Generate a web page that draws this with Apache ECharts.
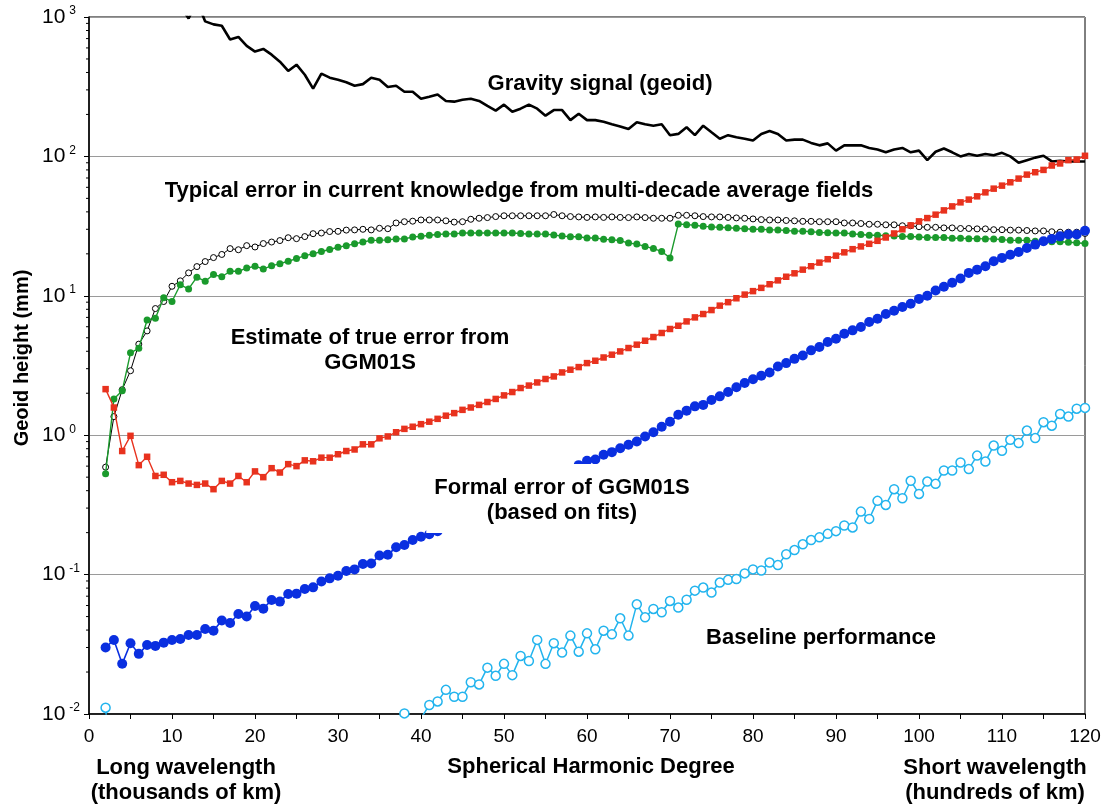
<!DOCTYPE html>
<html lang="en">
<head>
<meta charset="UTF-8">
<title>Geoid height vs spherical harmonic degree</title>
<script src="https://cdn.jsdelivr.net/npm/echarts@6/dist/echarts.min.js"></script>
<style>
    html, body { margin: 0; padding: 0; background: #fff; }
    #main { width: 1105px; height: 805px; }
</style>
</head>
<body>
<div id="main"></div>
<script>
    // degree of the first value in each series
    var firstDegree = 2;
    var gravityFirstDegree = 11;

    // gravity signal (geoid), degree 11..120, mm
    var gravity = [1200, 975, 1300, 930, 885, 865, 690, 720, 620, 565,
        590, 537, 478, 410, 455, 385, 306, 392, 367, 355,
        340, 321, 330, 367, 355, 315, 321, 291, 291, 259,
        268, 278, 250, 247, 255, 259, 250, 230, 213, 235,
        209, 220, 235, 220, 196, 215, 215, 182, 202, 182,
        182, 177, 170, 164, 157, 176, 170, 166, 170, 142,
        145, 162, 142, 166, 149, 134, 142, 137, 134, 130,
        145, 152, 145, 130, 132, 132, 125, 120, 124, 110,
        120, 120, 120, 115, 112, 107, 112, 115, 107, 110,
        94, 108, 114, 107, 100, 104, 101, 104, 102, 106,
        100, 90, 94, 98, 101, 92, 93, 92, 92, 92];

    // typical error in current knowledge (open black circles), degree 2..120
    var currentKnowledge = [0.59, 1.36, 2.12, 2.9, 4.5, 5.6, 8.1, 9.1, 11.7,
        12.8, 14.6, 16.2, 17.6, 18.8, 19.8, 21.8, 21.4, 22.9, 22.4,
        23.7, 24.3, 24.9, 26.1, 25.7, 26.6, 27.9, 28.2, 28.9, 29,
        29.6, 29.7, 30, 29.7, 30.5, 30.3, 33.3, 34, 34.3, 35,
        35, 35, 34.5, 33.8, 34, 35.4, 36, 36.4, 37, 37.5,
        37.5, 37.5, 37.5, 37.5, 37.5, 38.3, 37.5, 37, 36.8, 36.5,
        36.8, 36.5, 36.8, 36.5, 36.4, 36.8, 36.4, 36, 36, 36,
        37.8, 37.8, 37.5, 37, 36.8, 36.8, 36.5, 36.2, 36, 35.6,
        35.2, 35, 35, 34.7, 34.5, 34.2, 34.2, 34, 34, 34,
        33.3, 33.3, 33, 32.6, 32.6, 32.3, 32.3, 31.8, 31.8, 31.3,
        31, 31, 30.7, 30.7, 30.4, 30.4, 30.2, 30.2, 29.8, 29.8,
        29.6, 29.6, 29.4, 29.2, 29.2, 28.8, 28.6, 28.6, 28.6, 28];

    // multi-decade average fields (green), degree 2..120
    var multiDecade = [0.53, 1.82, 2.08, 3.9, 4.2, 6.7, 6.9, 9.7, 9.1,
        12, 11.2, 13.6, 12.7, 14.2, 13.7, 15, 15, 15.8, 16.3,
        15.6, 16.4, 17, 17.7, 18.5, 19.4, 20, 20.8, 21.5, 22.3,
        22.9, 23.6, 24.3, 25, 25, 25.2, 25.6, 25.6, 26.4, 26.7,
        27.2, 27.5, 27.8, 27.8, 28.2, 28.2, 28.2, 28.2, 28.2, 28.2,
        28.2, 28, 27.7, 27.7, 27.7, 27.3, 26.8, 26.5, 26.5, 26,
        26, 25.5, 25.2, 24.9, 23.9, 23.5, 22.6, 21.8, 20.8, 18.7,
        32.7, 32.4, 32.1, 31.5, 31.2, 31, 30.8, 30.5, 30.3, 30,
        30, 29.7, 29.7, 29.4, 29.1, 29.1, 28.8, 28.5, 28.3, 28.2,
        28.2, 27.8, 27.5, 27.2, 27.2, 27, 26.8, 26.6, 26.6, 26.4,
        26.2, 26.2, 26.2, 25.9, 25.9, 25.7, 25.7, 25.6, 25.6, 25.3,
        25, 25, 25, 24.6, 24.6, 24.4, 24.4, 24.2, 24, 23.7];

    // estimate of true error from GGM01S (red squares), degree 2..120
    var trueError = [2.14, 1.58, 0.77, 0.99, 0.61, 0.70, 0.51, 0.52, 0.46,
        0.47, 0.45, 0.44, 0.45, 0.41, 0.47, 0.45, 0.51, 0.46, 0.55,
        0.50, 0.58, 0.54, 0.62, 0.60, 0.66, 0.65, 0.69, 0.69, 0.73,
        0.77, 0.79, 0.86, 0.86, 0.95, 0.98, 1.05, 1.11, 1.15, 1.2,
        1.25, 1.31, 1.38, 1.44, 1.52, 1.58, 1.65, 1.73, 1.82, 1.93,
        2.04, 2.18, 2.27, 2.39, 2.53, 2.64, 2.82, 2.95, 3.08, 3.29,
        3.42, 3.61, 3.78, 3.99, 4.22, 4.46, 4.76, 5.06, 5.41, 5.78,
        6.1, 6.55, 7.0, 7.4, 7.9, 8.5, 9.0, 9.6, 10.2, 10.8,
        11.4, 12.1, 12.9, 13.7, 14.5, 15.4, 16.3, 17.3, 18.3, 19.4,
        20.5, 21.6, 22.6, 23.6, 24.8, 26.2, 28, 30, 32, 34.2,
        36.1, 38.2, 41, 43.8, 46.8, 49, 51.7, 55.2, 58.7, 61.7,
        65.2, 69.3, 74, 77, 80, 86, 89, 94, 95, 101];

    // formal error of GGM01S (blue), degree 2..120; null where hidden by the label
    var formalError = [0.030, 0.034, 0.0229, 0.0322, 0.027, 0.0313, 0.0308, 0.0325, 0.034,
        0.0345, 0.0369, 0.0369, 0.0407, 0.0395, 0.0468, 0.045, 0.0522, 0.050, 0.0596,
        0.057, 0.0658, 0.064, 0.0726, 0.073, 0.0789, 0.081, 0.0891, 0.094, 0.098,
        0.106, 0.109, 0.119, 0.12, 0.137, 0.139, 0.157, 0.163, 0.177, 0.187,
        0.195, 0.205, null, null, null, null, null, null, null, null,
        null, null, null, null, null, null, null, null, 0.61, 0.655,
        0.67, 0.723, 0.756, 0.807, 0.853, 0.902, 0.98, 1.05, 1.15, 1.25,
        1.4, 1.5, 1.61, 1.65, 1.79, 1.9, 2.04, 2.21, 2.37, 2.52,
        2.67, 2.82, 3.11, 3.29, 3.53, 3.73, 4.06, 4.29, 4.66, 4.92,
        5.34, 5.65, 5.97, 6.49, 6.85, 7.4, 7.82, 8.3, 8.78, 9.5,
        10, 10.9, 11.6, 12.4, 13.3, 14.6, 15.4, 16.3, 17.7, 18.7,
        19.7, 20.6, 22, 23.3, 24.6, 25.6, 26.7, 27.5, 27.5, 29.3];

    // baseline performance (cyan open circles), degree 2..120; null below the plot
    var baseline = [0.0111, 0.002, null, null, null, null, null, null, null,
        null, null, null, null, null, null, null, null, null, null,
        null, null, null, null, null, null, null, null, null, null,
        null, null, null, null, null, null, null, 0.0101, 0.008, 0.0093,
        0.0116, 0.0123, 0.0149, 0.0133, 0.0133, 0.0169, 0.0163, 0.0215, 0.0188, 0.0229,
        0.019, 0.0261, 0.024, 0.034, 0.0229, 0.0322, 0.0276, 0.0365, 0.028, 0.0379,
        0.0291, 0.0396, 0.0373, 0.0486, 0.0365, 0.0612, 0.0494, 0.0567, 0.0537, 0.0647,
        0.058, 0.066, 0.0767, 0.0807, 0.0743, 0.0877, 0.0917, 0.093, 0.102, 0.109,
        0.107, 0.122, 0.117, 0.14, 0.15, 0.165, 0.177, 0.185, 0.196, 0.205,
        0.225, 0.218, 0.283, 0.251, 0.338, 0.316, 0.41, 0.353, 0.471, 0.379,
        0.465, 0.448, 0.558, 0.558, 0.637, 0.571, 0.714, 0.647, 0.843, 0.773,
        0.927, 0.878, 1.08, 0.953, 1.24, 1.17, 1.42, 1.36, 1.55, 1.57];

    // log axis minor tick values
    var yMinorTicks = [0.02, 0.03, 0.04, 0.05, 0.06, 0.07, 0.08, 0.09,
        0.2, 0.3, 0.4, 0.5, 0.6, 0.7, 0.8, 0.9,
        2, 3, 4, 5, 6, 7, 8, 9,
        20, 30, 40, 50, 60, 70, 80, 90,
        200, 300, 400, 500, 600, 700, 800, 900];

    var FONT = '"Liberation Sans", Arial, Helvetica, sans-serif';

    function pairs(values, start) {
        return values.map(function (v, i) {
            return [start + i, v == null ? '-' : v];
        });
    }

    function label(text, x, y, size, extra) {
        var el = {
            type: 'text',
            x: x,
            y: y,
            z: 100,
            style: {
                text: text,
                fill: '#000',
                font: 'bold ' + size + 'px ' + FONT,
                textAlign: 'center',
                textVerticalAlign: 'middle',
                lineHeight: 25
            }
        };
        if (extra) {
            for (var k in extra) {
                if (k === 'style') {
                    for (var s in extra.style) el.style[s] = extra.style[s];
                } else {
                    el[k] = extra[k];
                }
            }
        }
        return el;
    }

    var myChart = echarts.init(document.getElementById('main'), null, {renderer: 'canvas'});

    var option = {
        animation: false,
        backgroundColor: '#fff',
        grid: {
            left: 89,
            right: 20,
            top: 17,
            bottom: 91,
            show: true,
            borderColor: '#000',
            borderWidth: 1
        },
        xAxis: {
            type: 'value',
            min: 0,
            max: 120,
            interval: 10,
            axisLine: {lineStyle: {color: '#000', width: 1.5}},
            axisTick: {length: 5, lineStyle: {color: '#000'}},
            minorTick: {show: true, splitNumber: 2, length: 5, lineStyle: {color: '#000'}},
            splitLine: {show: false},
            axisLabel: {
                color: '#000',
                fontFamily: FONT,
                fontSize: 19,
                margin: 13
            }
        },
        yAxis: {
            type: 'log',
            logBase: 10,
            min: 0.01,
            max: 1000,
            axisLine: {show: true, lineStyle: {color: '#000', width: 1.5}},
            axisTick: {show: true, length: 5, lineStyle: {color: '#000'}},
            splitLine: {show: true, lineStyle: {color: '#9a9a9a', width: 1}},
            axisLabel: {
                align: 'left',
                margin: 47,
                formatter: function (v) {
                    var e = Math.round(Math.log(v) / Math.LN10);
                    return '{b|10}{s|' + e + '}';
                },
                rich: {
                    b: {fontFamily: FONT, fontSize: 21, color: '#000', lineHeight: 24},
                    s: {fontFamily: FONT, fontSize: 12, color: '#000', lineHeight: 12,
                        verticalAlign: 'top', padding: [0, 0, 0, 4]}
                }
            }
        },
        series: [
            {
                name: 'Minor ticks',
                type: 'custom',
                silent: true,
                clip: false,
                data: yMinorTicks.map(function (v) { return [0, v]; }),
                renderItem: function (params, api) {
                    var p = api.coord([0, api.value(1)]);
                    return {
                        type: 'line',
                        shape: {x1: p[0] - 3, y1: p[1], x2: p[0], y2: p[1]},
                        style: {stroke: '#000', lineWidth: 1}
                    };
                }
            },
            {
                name: 'Gravity signal (geoid)',
                type: 'line',
                data: pairs(gravity, gravityFirstDegree),
                showSymbol: false,
                symbol: 'none',
                lineStyle: {color: '#000', width: 2.6},
                z: 3
            },
            {
                name: 'Typical error in current knowledge',
                type: 'line',
                data: pairs(currentKnowledge, firstDegree),
                symbol: 'circle',
                symbolSize: 6,
                itemStyle: {color: '#fff', borderColor: '#000', borderWidth: 1},
                lineStyle: {color: '#000', width: 1},
                z: 3
            },
            {
                name: 'Multi-decade average fields',
                type: 'line',
                data: pairs(multiDecade, firstDegree),
                symbol: 'circle',
                symbolSize: 7,
                itemStyle: {color: '#1a9a2c'},
                lineStyle: {color: '#1a9a2c', width: 1.4},
                z: 4
            },
            {
                name: 'Estimate of true error from GGM01S',
                type: 'line',
                data: pairs(trueError, firstDegree),
                symbol: 'rect',
                symbolSize: 6.5,
                itemStyle: {color: '#e8321e'},
                lineStyle: {color: '#e8321e', width: 1.4},
                z: 5
            },
            {
                name: 'Formal error of GGM01S',
                type: 'line',
                data: pairs(formalError, firstDegree),
                symbol: 'circle',
                symbolSize: 10,
                itemStyle: {color: '#0a2fe0'},
                lineStyle: {color: '#0a2fe0', width: 1.6},
                z: 6
            },
            {
                name: 'Baseline performance',
                type: 'line',
                data: pairs(baseline, firstDegree),
                symbol: 'circle',
                symbolSize: 9,
                itemStyle: {color: '#fff', borderColor: '#22b4ee', borderWidth: 1.5},
                lineStyle: {color: '#22b4ee', width: 1.5},
                z: 7
            }
        ],
        graphic: [
            label('Gravity signal (geoid)', 600, 84, 22),
            label('Typical error in current knowledge from multi-decade average fields', 519, 191, 22),
            label('Estimate of true error from\nGGM01S', 370, 350, 22),
            label('Formal error of GGM01S\n(based on fits)', 562, 464, 22, {
                style: {
                    textVerticalAlign: 'top',
                    backgroundColor: '#fff',
                    padding: [11, 8, 8, 8]
                }
            }),
            label('Baseline performance', 821, 638, 22),
            label('Spherical Harmonic Degree', 591, 767, 22),
            label('Long wavelength\n(thousands of km)', 186, 780, 22),
            label('Short wavelength\n(hundreds of km)', 995, 780, 22),
            label('Geoid height (mm)', 22, 358, 20, {rotation: Math.PI / 2})
        ]
    };

    myChart.setOption(option);
</script>
</body>
</html>
